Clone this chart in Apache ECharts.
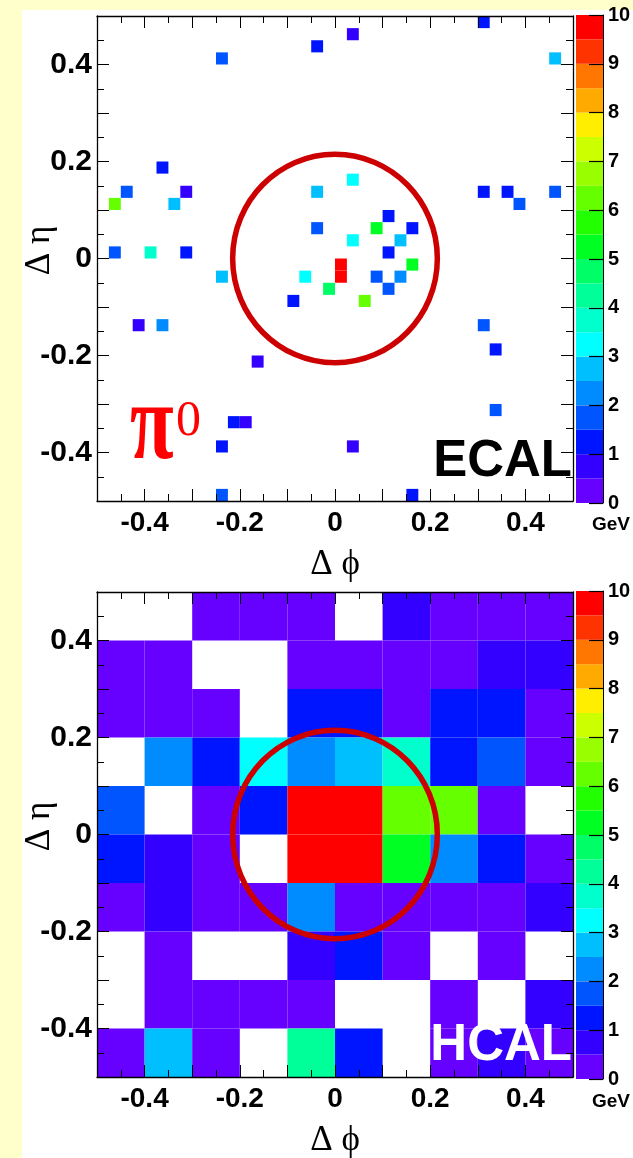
<!DOCTYPE html>
<html>
<head>
<meta charset="utf-8">
<script src="https://cdn.jsdelivr.net/npm/echarts@6/dist/echarts.min.js"></script>
<style>
html,body{margin:0;padding:0;background:#ffffcc;}
#c{width:633px;height:1158px;}
</style>
</head>
<body>
<div id="c"></div>
<script>
// ---- colour scale (20 contour bands, 0..10 GeV) ----
const energyPalette = ['#6600ff','#3300ff','#0015ff','#0055ff','#008cff','#00bfff','#00ffff','#00ffcc','#00ff99','#00ff66',
                       '#00ff22','#22ff00','#66ff00','#99ff00','#ccff00','#ffee00','#ffaa00','#ff7700','#ff3300','#ff0000'];
const zLevels = [0,0.5,1,1.5,2,2.5,3,3.5,4,4.5,5,5.5,6,6.5,7,7.5,8,8.5,9,9.5,10];

// ---- ECAL hits: lower-left cell corner (dphi, deta) and energy (GeV) ----
const ecalCell = 0.025;
const ecalPhi = [0.3,0.025,-0.05,-0.25,0.45,-0.375,0.025,-0.45,-0.325,-0.05,0.3,0.35,0.45,-0.475,-0.35,0.375,0.1,-0.05,0.075,0.15,
                 0.025,0.125,-0.475,-0.4,-0.325,0.1,0,0.15,-0.25,-0.075,0,0.075,0.125,-0.025,0.1,-0.1,0.05,-0.425,-0.375,0.3,
                 0.325,-0.175,0.325,-0.225,-0.2,-0.25,0.025,-0.25,0.15];
const ecalEta = [0.475,0.45,0.425,0.4,0.4,0.175,0.15,0.125,0.125,0.125,0.125,0.125,0.125,0.1,0.1,0.1,0.075,0.05,0.05,0.05,
                 0.025,0.025,0,0,0,0,-0.025,-0.025,-0.05,-0.05,-0.05,-0.05,-0.05,-0.075,-0.075,-0.1,-0.1,-0.15,-0.15,-0.15,
                 -0.2,-0.225,-0.325,-0.35,-0.35,-0.4,-0.4,-0.5,-0.5];
const ecalE   = [1.3,0.8,1.3,1.8,2.8,1.3,3.3,1.8,0.8,2.8,1.3,1.3,1.8,6.3,2.8,1.8,1.3,1.8,5.4,1.3,
                 3.3,2.8,1.8,3.8,1.3,1.3,9.8,5.2,2.8,3.3,9.7,1.8,2.3,4.8,1.8,1.3,6.3,0.8,2.3,1.8,
                 1.3,0.8,1.8,1.3,0.8,1.3,0.8,1.8,1.3];

// ---- HCAL towers: rows from top (eta lower edges) x columns (phi lower edges) ----
const hcalCell = 0.1;
const hcalPhi = [-0.5,-0.4,-0.3,-0.2,-0.1,0,0.1,0.2,0.3,0.4];
const hcalEta = [0.4,0.3,0.2,0.1,0,-0.1,-0.2,-0.3,-0.4,-0.5];
const hcalE = [
  [null,null,0.3,0.3,0.3,null,0.8,0.3,0.3,0.3],
  [0.3,0.3,null,null,0.3,0.3,0.3,0.3,0.8,0.8],
  [0.3,0.3,0.3,null,1.3,1.3,0.3,1.3,1.3,0.3],
  [null,2.3,1.3,3.3,2.3,2.8,3.8,1.3,1.8,0.3],
  [1.8,null,0.3,1.3,9.8,9.8,6.3,6.3,0.3,null],
  [1.3,0.8,0.3,null,9.8,9.8,5.4,2.3,1.3,0.3],
  [0.3,0.8,0.3,0.3,2.3,0.3,0.3,0.3,0.3,0.8],
  [null,0.3,null,null,0.8,1.3,0.3,null,0.3,null],
  [null,0.3,0.3,0.3,0.3,null,null,0.3,null,0.8],
  [0.3,2.8,0.3,null,4.4,1.3,null,0.3,0.8,0.3]
];

// ---- isolation cone ----
const coneAxis = [[0, 0]];
const coneRadius = 0.215;

// ---------------------------------------------------------------
const ecalData = ecalPhi.map((p, i) => [p, ecalEta[i], ecalE[i]]);
const hcalData = [];
hcalE.forEach((row, r) => row.forEach((v, c) => { if (v !== null) hcalData.push([hcalPhi[c], hcalEta[r], v]); }));
const bandData = [];
for (let i = 0; i + 1 < zLevels.length; i++) bandData.push([zLevels[i], zLevels[i + 1], (zLevels[i] + zLevels[i + 1]) / 2]);

const pieces = [];
for (let i = 0; i < energyPalette.length; i++) {
  const p = { gte: zLevels[i], color: energyPalette[i] };
  if (i < energyPalette.length - 1) p.lt = zLevels[i + 1];
  pieces.push(p);
}

function cellRenderer(size) {
  return function (params, api) {
    const x = api.value(0), y = api.value(1);
    const a = api.coord([x, y + size]);
    const b = api.coord([x + size, y]);
    return { type: 'rect', shape: { x: a[0], y: a[1], width: b[0] - a[0], height: b[1] - a[1] },
             style: { fill: api.visual('color') } };
  };
}
function bandRenderer(params, api) {
  const a = api.coord([0, api.value(1)]);
  const b = api.coord([1, api.value(0)]);
  return { type: 'rect', shape: { x: a[0], y: a[1], width: b[0] - a[0], height: b[1] - a[1] },
           style: { fill: api.visual('color') } };
}
function coneRenderer(params, api) {
  const c = api.coord([api.value(0), api.value(1)]);
  const s = api.size([coneRadius, coneRadius]);
  return { type: 'ellipse', shape: { cx: c[0], cy: c[1], rx: s[0], ry: s[1] },
           style: { fill: 'none', stroke: '#cc0000', lineWidth: 5.5 } };
}

const labelFmt = v => {
  const k = Math.round(v * 10);
  if (k % 2 !== 0 || Math.abs(k) >= 5) return '';
  return k === 0 ? '0' : (k / 10).toFixed(1);
};
const lineStyle = { color: '#000', width: 1.3 };
function frameAxis(gridIndex, position, withLabels, name, isY) {
  const ax = {
    gridIndex, type: 'value', position, min: -0.5, max: 0.5, interval: 0.1, z: 10,
    axisLine: { show: true, onZero: false, lineStyle },
    axisTick: { show: true, inside: true, length: 12, lineStyle: { color: '#000', width: 1 } },
    minorTick: { show: true, splitNumber: 2, length: 7, lineStyle: { color: '#000', width: 1 } },
    splitLine: { show: false },
    axisLabel: { show: withLabels, formatter: labelFmt, fontFamily: 'Liberation Sans', fontWeight: 'bold',
                 fontSize: isY ? 30 : 28, color: '#000', margin: isY ? 5 : 8 }
  };
  if (name) {
    ax.name = name;
    ax.nameLocation = 'middle';
    ax.nameMoveOverlap = false;
    ax.nameTextStyle = { fontFamily: 'Liberation Serif', fontSize: 35, color: '#000' };
    if (isY) { ax.nameRotate = 90; ax.nameGap = 40; ax.nameTextStyle.padding = [0, 0, 0, 16]; }
    else { ax.nameGap = 46; }
  }
  return ax;
}
function barAxisY(gridIndex) {
  return { gridIndex, type: 'value', position: 'right', min: 0, max: 10, interval: 1, z: 10,
           axisLine: { show: true, onZero: false, lineStyle: { color: '#000', width: 1 } },
           axisTick: { show: true, inside: true, length: 14, lineStyle: { color: '#000', width: 1.2 } },
           splitLine: { show: false },
           axisLabel: { fontFamily: 'Liberation Sans', fontWeight: 'bold', fontSize: 20, color: '#000', margin: 5 } };
}
function barAxisX(gridIndex) { return { gridIndex, type: 'value', min: 0, max: 1, show: false }; }

const chart = echarts.init(document.getElementById('c'), null, { renderer: 'canvas' });
chart.setOption({
  backgroundColor: '#ffffcc',
  animation: false,
  grid: [
    { left: 97, top: 16, width: 476, height: 485, outerBoundsMode: 'none' },
    { left: 576, top: 15, width: 27, height: 488, outerBoundsMode: 'none' },
    { left: 97, top: 592, width: 476, height: 485, outerBoundsMode: 'none' },
    { left: 576, top: 591, width: 27, height: 488, outerBoundsMode: 'none' }
  ],
  xAxis: [
    frameAxis(0, 'bottom', true, 'Δ ϕ', false),
    frameAxis(0, 'top', false, null, false),
    barAxisX(1),
    frameAxis(2, 'bottom', true, 'Δ ϕ', false),
    frameAxis(2, 'top', false, null, false),
    barAxisX(3)
  ],
  yAxis: [
    frameAxis(0, 'left', true, 'Δ η', true),
    frameAxis(0, 'right', false, null, true),
    barAxisY(1),
    frameAxis(2, 'left', true, 'Δ η', true),
    frameAxis(2, 'right', false, null, true),
    barAxisY(3)
  ],
  visualMap: {
    type: 'piecewise', show: false, dimension: 2, seriesIndex: [0, 2, 3, 5], pieces
  },
  series: [
    { type: 'custom', name: 'ECAL', xAxisIndex: 0, yAxisIndex: 0, data: ecalData, renderItem: cellRenderer(ecalCell), z: 2, clip: true, silent: true },
    { type: 'custom', name: 'ECAL cone', xAxisIndex: 0, yAxisIndex: 0, data: coneAxis, renderItem: coneRenderer, z: 3, silent: true },
    { type: 'custom', name: 'ECAL scale', xAxisIndex: 2, yAxisIndex: 2, data: bandData, renderItem: bandRenderer, z: 2, silent: true },
    { type: 'custom', name: 'HCAL', xAxisIndex: 3, yAxisIndex: 3, data: hcalData, renderItem: cellRenderer(hcalCell), z: 2, clip: true, silent: true },
    { type: 'custom', name: 'HCAL cone', xAxisIndex: 3, yAxisIndex: 3, data: coneAxis, renderItem: coneRenderer, z: 3, silent: true },
    { type: 'custom', name: 'HCAL scale', xAxisIndex: 5, yAxisIndex: 5, data: bandData, renderItem: bandRenderer, z: 2, silent: true }
  ],
  graphic: [
    { type: 'rect', z: -100, silent: true, shape: { x: 22, y: 10, width: 611, height: 1148 }, style: { fill: '#ffffff' } },
    { type: 'text', z: 100, x: 572, y: 462, style: { text: 'ECAL', fontFamily: 'Liberation Sans', fontWeight: 'bold', fontSize: 51, fill: '#000', align: 'right', verticalAlign: 'middle' } },
    { type: 'text', z: 100, x: 572, y: 1046, style: { text: 'HCAL', fontFamily: 'Liberation Sans', fontWeight: 'bold', fontSize: 51, fill: '#fff', align: 'right', verticalAlign: 'middle' } },
    { type: 'text', z: 100, x: 130, y: 430, scaleX: 0.95, scaleY: 1.3, style: { text: 'π', fontFamily: 'Liberation Serif', fontWeight: 'bold', fontSize: 84, fill: '#ff0000', align: 'left', verticalAlign: 'middle' } },
    { type: 'text', z: 100, x: 176, y: 422, style: { text: '0', fontFamily: 'Liberation Serif', fontSize: 50, fill: '#ff0000', align: 'left', verticalAlign: 'middle' } },
    { type: 'text', z: 100, x: 611, y: 525, style: { text: 'GeV', fontFamily: 'Liberation Sans', fontWeight: 'bold', fontSize: 19, fill: '#000', align: 'center', verticalAlign: 'middle' } },
    { type: 'text', z: 100, x: 611, y: 1102, style: { text: 'GeV', fontFamily: 'Liberation Sans', fontWeight: 'bold', fontSize: 19, fill: '#000', align: 'center', verticalAlign: 'middle' } }
  ]
});
</script>
</body>
</html>
